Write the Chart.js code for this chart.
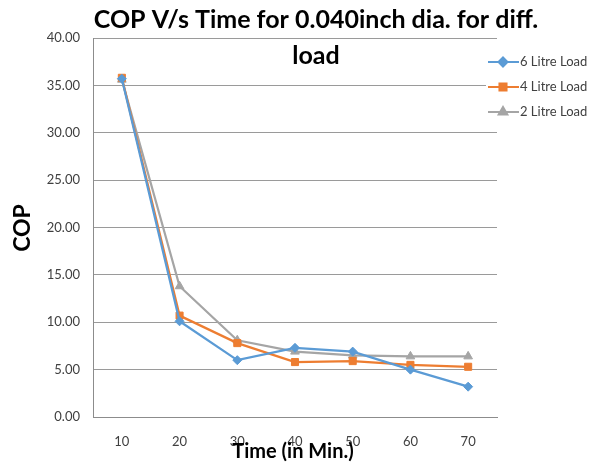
<!DOCTYPE html>
<html>
<head>
<meta charset="utf-8">
<script src="https://cdn.jsdelivr.net/npm/chart.js@4"></script>
<style>
  html, body { margin: 0; padding: 0; background: #fff; }
  #wrap { width: 603px; height: 467px; }
</style>
</head>
<body>
<div id="wrap"><canvas id="copChart"></canvas></div>
<script>
const times = ["10", "20", "30", "40", "50", "60", "70"];
const load6 = [35.7, 10.1, 6.0, 7.3, 6.9, 5.0, 3.2];
const load4 = [35.8, 10.7, 7.8, 5.8, 5.9, 5.5, 5.3];
const load2 = [35.6, 13.8, 8.1, 6.9, 6.5, 6.4, 6.4];
const yTicks = [0, 5, 10, 15, 20, 25, 30, 35, 40];

const FONT = "Lato, 'Open Sans', sans-serif";

// titles + legend drawn by hand so they can sit over the plot like the Excel original
const overlay = {
    id: "overlay",
    afterDraw(chart) {
        const ctx = chart.ctx;
        ctx.save();
        ctx.fillStyle = "#000";
        ctx.textAlign = "center";
        ctx.textBaseline = "middle";
        ctx.font = "bold 25px " + FONT;
        ctx.fillText("COP V/s Time for 0.040inch dia. for diff.", 316, 20);
        ctx.fillText("load", 316, 56);

        ctx.font = "bold 20px " + FONT;
        ctx.fillText("Time (in Min.)", 293, 452);

        ctx.translate(23, 228);
        ctx.rotate(-Math.PI / 2);
        ctx.font = "bold 23px " + FONT;
        ctx.fillText("COP", 0, 0);
        ctx.restore();

        // legend
        ctx.save();
        chart.data.datasets.forEach(function (ds, i) {
            const y = 62 + i * 25;
            ctx.fillStyle = "#fff";
            ctx.fillRect(486, y - 8, 112, 16);
            ctx.strokeStyle = ds.borderColor;
            ctx.lineWidth = 2;
            ctx.beginPath();
            ctx.moveTo(488, y);
            ctx.lineTo(519, y);
            ctx.stroke();
            Chart.helpers.drawPoint(ctx, {
                pointStyle: ds.pointStyle,
                radius: ds.pointRadius,
                borderWidth: 1
            }, 503, y);
            ctx.fillStyle = ds.borderColor;
            ctx.fill();
            ctx.fillStyle = "#404040";
            ctx.font = "13px " + FONT;
            ctx.textAlign = "left";
            ctx.textBaseline = "middle";
            ctx.fillText(ds.label, 520, y);
        });
        ctx.restore();
    }
};

function series(label, data, color, style, r) {
    return {
        label: label,
        data: data,
        borderColor: color,
        backgroundColor: color,
        borderWidth: 2.25,
        pointStyle: style,
        pointRadius: r,
        pointHoverRadius: r,
        pointBorderWidth: 1,
        tension: 0
    };
}

new Chart(document.getElementById("copChart"), {
    type: "line",
    data: {
        labels: times,
        datasets: [
            series("6 Litre Load", load6, "#5B9BD5", "rectRot", 4.5),
            series("4 Litre Load", load4, "#ED7D31", "rect", 5),
            series("2 Litre Load", load2, "#A5A5A5", "triangle", 5)
        ]
    },
    options: {
        responsive: true,
        maintainAspectRatio: false,
        animation: false,
        layout: { padding: { left: 0, top: 38, right: 106, bottom: 0 } },
        plugins: {
            legend: { display: false },
            title: { display: false },
            tooltip: { enabled: false }
        },
        scales: {
            x: {
                type: "category",
                offset: true,
                grid: { display: false, drawTicks: false },
                border: { display: true, color: "#8c8c8c", width: 1 },
                ticks: { color: "#404040", font: { family: FONT, size: 13 }, padding: 17 },
                afterFit(scale) { scale.height = 50; }
            },
            y: {
                min: 0,
                max: 40,
                afterBuildTicks(scale) { scale.ticks = yTicks.map(v => ({ value: v })); },
                grid: { color: "#9a9a9a", lineWidth: 1, drawTicks: false },
                border: { display: true, color: "#8c8c8c", width: 1 },
                ticks: {
                    color: "#404040",
                    font: { family: FONT, size: 13 },
                    padding: 13,
                    callback: v => Number(v).toFixed(2)
                },
                afterFit(scale) { scale.width = 93; }
            }
        }
    },
    plugins: [overlay]
});
</script>
</body>
</html>
